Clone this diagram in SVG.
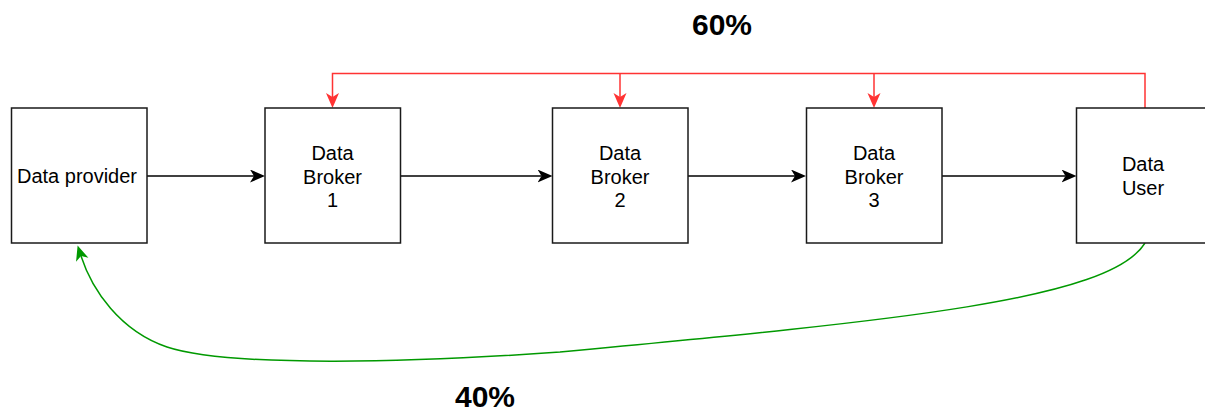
<svg xmlns="http://www.w3.org/2000/svg" width="1205" height="412" viewBox="0 0 1205 412">
<style>
.box{fill:#fff;stroke:#1a1a1a;stroke-width:1.5}
.lbl{font-family:"Liberation Sans",Arial,sans-serif;font-size:20px;fill:#000;text-anchor:middle}
.pct{font-family:"Liberation Sans",Arial,sans-serif;font-size:30px;font-weight:bold;fill:#000;text-anchor:middle}
.blk{fill:none;stroke:#000;stroke-width:1.5}
.red{fill:none;stroke:#ff3333;stroke-width:1.5}
.grn{fill:none;stroke:#009900;stroke-width:1.5}
</style>
<defs>
<marker id="ab" markerUnits="userSpaceOnUse" markerWidth="16" markerHeight="14" refX="4" refY="6.5" orient="auto"><path d="M0,0 L15,6.5 L0,13 L4,6.5 Z" fill="#000"/></marker>
<marker id="ar" markerUnits="userSpaceOnUse" markerWidth="16" markerHeight="14" refX="4" refY="6.5" orient="auto"><path d="M0,0 L15,6.5 L0,13 L4,6.5 Z" fill="#ff3333"/></marker>
<marker id="ag" markerUnits="userSpaceOnUse" markerWidth="16" markerHeight="14" refX="4" refY="6.5" orient="auto"><path d="M0,0 L15,6.5 L0,13 L4,6.5 Z" fill="#009900"/></marker>
</defs>
<g id="connectors">
<path class="blk" d="M147,176 H254" marker-end="url(#ab)"/>
<path class="blk" d="M400,176 H541.5" marker-end="url(#ab)"/>
<path class="blk" d="M688,176 H795" marker-end="url(#ab)"/>
<path class="blk" d="M942,176 H1065.5" marker-end="url(#ab)"/>
<path class="red" d="M1145,108 V73.5 H332.5 V97" marker-end="url(#ar)"/>
<path class="red" d="M620,73.5 V97" marker-end="url(#ar)"/>
<path class="red" d="M874,73.5 V97" marker-end="url(#ar)"/>
<path class="grn" d="M1145,243 C1110,300 900,320 560,352 C420,362 230,368 167,347 C120,331 92,290 81,256" marker-end="url(#ag)"/>
</g>
<g id="provider"><rect class="box" x="11.5" y="108" width="135.5" height="135"/><text class="lbl" x="77" y="183">Data provider</text></g>
<g id="broker1"><rect class="box" x="265" y="108" width="135.5" height="135"/><text class="lbl" x="332.5" y="160">Data</text><text class="lbl" x="332.5" y="183.5">Broker</text><text class="lbl" x="332.5" y="207">1</text></g>
<g id="broker2"><rect class="box" x="552.5" y="108" width="135.5" height="135"/><text class="lbl" x="620" y="160">Data</text><text class="lbl" x="620" y="183.5">Broker</text><text class="lbl" x="620" y="207">2</text></g>
<g id="broker3"><rect class="box" x="806.5" y="108" width="135.5" height="135"/><text class="lbl" x="874" y="160">Data</text><text class="lbl" x="874" y="183.5">Broker</text><text class="lbl" x="874" y="207">3</text></g>
<g id="user"><rect class="box" x="1076.5" y="108" width="135.5" height="135"/><text class="lbl" x="1143" y="171">Data</text><text class="lbl" x="1143" y="194.5">User</text></g>
<g id="labels"><text class="pct" x="722" y="35">60%</text><text class="pct" x="485" y="407">40%</text></g>
</svg>
